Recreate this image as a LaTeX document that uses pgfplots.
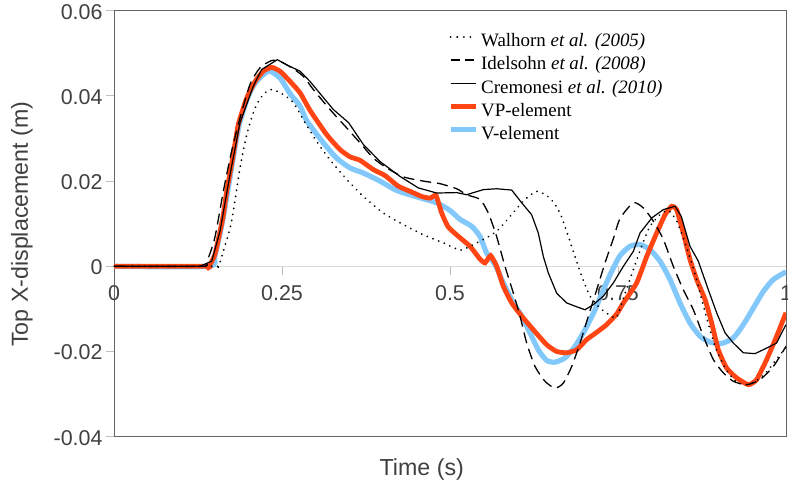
\documentclass[border=0pt]{standalone}
\usepackage{pgfplots}
\pgfplotsset{compat=1.18}
\usepackage{fontspec}
\setmainfont{Liberation Serif}
\newfontfamily\arial{Liberation Sans}
\definecolor{vpred}{RGB}{255,69,20}
\definecolor{vblue}{RGB}{130,200,250}
\definecolor{txtgray}{RGB}{64,64,64}
\definecolor{axgray}{RGB}{100,100,100}
\definecolor{tickgray}{RGB}{190,190,190}
\definecolor{zerogray}{RGB}{217,217,217}
\begin{document}
\begin{tikzpicture}
\begin{axis}[
  name=ax,
  scale only axis, width=672bp, height=426bp,
  xmin=0, xmax=1, ymin=-0.04, ymax=0.06,
  xtick={0,0.25,0.5,0.75,1}, xticklabels={0,0.25,0.5,0.75,1},
  ytick={-0.04,-0.02,0,0.02,0.04,0.06},
  yticklabels={-0.04,-0.02,0,0.02,0.04,0.06},
  ticklabel style={font=\arial\fontsize{21.5}{24}\selectfont, text=txtgray},
  xtick pos=bottom, ytick pos=left, tick align=outside,
  major tick length=8bp,
  every tick/.style={draw=tickgray, line width=0.8bp},
  xtick style={yshift=170bp},
  xticklabel style={yshift=162.5bp},
  yticklabel style={yshift=-1bp},
  axis line style={draw=axgray, line width=0.8bp},
  xlabel={Time (s)}, ylabel={Top X-displacement (m)},
  label style={font=\arial\fontsize{23.3}{26}\selectfont, text=txtgray},
  xlabel style={at={(axis description cs:0.458,-0.078)}, anchor=center},
  ylabel style={at={(axis description cs:-0.137,0.499)}, anchor=center},
  legend cell align=left,
  legend image code/.code={\draw[#1] (0bp,5.5bp) -- (25bp,5.5bp);},
  legend style={at={(axis description cs:0.497,0.953)}, anchor=north west,
    draw=none, fill=none, inner sep=0pt, outer sep=0pt, row sep=0pt, column sep=1bp,
    font=\fontsize{19}{22}\selectfont,
    nodes={inner sep=2bp, text height=14bp, text depth=5.2bp}},
]
\draw[zerogray, line width=1bp] (axis cs:0,0) -- (axis cs:1,0);

\addlegendimage{black, line width=2bp, line cap=round, dash pattern=on 0.1bp off 6.5bp}
\addlegendentry{Walhorn \textit{et al. (2005)}}
\addlegendimage{black, line width=1.4bp, dash pattern=on 9bp off 5bp}
\addlegendentry{Idelsohn \textit{et al. (2008)}}
\addlegendimage{black, line width=1.2bp}
\addlegendentry{Cremonesi \textit{et al. (2010)}}
\addlegendimage{vpred, line width=4.8bp}
\addlegendentry{VP-element}
\addlegendimage{vblue, line width=5.2bp}
\addlegendentry{V-element}

% V-element
\addplot[forget plot, vblue, line width=5.2bp, smooth, tension=0.4] coordinates {
(0,0) (0.14,0) (0.150,0.0025) (0.162,0.011) (0.177,0.025) (0.186,0.033) (0.198,0.0392) (0.21,0.043) (0.2297,0.0458) (0.247,0.0442) (0.262,0.0405) (0.277,0.0376) (0.2867,0.0342) (0.3115,0.029) (0.3313,0.0254) (0.3512,0.0231) (0.371,0.0219) (0.3958,0.02) (0.4206,0.0178) (0.4504,0.0163) (0.4802,0.0149) (0.5,0.0131) (0.515,0.011) (0.5322,0.0094) (0.5446,0.007) (0.5546,0.0031) (0.567,0.0004) (0.5794,-0.0039) (0.5943,-0.0086) (0.6067,-0.0117) (0.619,-0.0156) (0.6314,-0.0196) (0.6438,-0.0221) (0.6563,-0.0225) (0.6711,-0.0215) (0.686,-0.0188) (0.7009,-0.0149) (0.7158,-0.0102) (0.7282,-0.0055) (0.7406,-0.0012) (0.753,0.0025) (0.7679,0.0047) (0.7827,0.0051) (0.7976,0.0039) (0.8125,0.0012) (0.8274,-0.0031) (0.8423,-0.0086) (0.8571,-0.0133) (0.872,-0.0164) (0.8869,-0.0178) (0.9043,-0.0181) (0.9216,-0.0168) (0.9365,-0.0137) (0.9514,-0.0098) (0.9663,-0.0059) (0.9812,-0.0031) (1.0,-0.0013)
};
% VP-element
\addplot[forget plot, vpred, line width=4.8bp, smooth, tension=0.3] coordinates {
(0,0) (0.135,0) (0.140,-0.0003) (0.150,0.0027) (0.162,0.0114) (0.1677,0.0176) (0.1766,0.0254) (0.185,0.0333) (0.1975,0.0395) (0.21,0.0434) (0.222,0.0458) (0.2346,0.0467) (0.247,0.0458) (0.262,0.0434) (0.277,0.0407) (0.2917,0.0366) (0.3165,0.0309) (0.3363,0.0274) (0.3512,0.0257) (0.366,0.0249) (0.386,0.0227) (0.4033,0.0213) (0.4231,0.0188) (0.4405,0.0176) (0.4578,0.0164) (0.4702,0.016) (0.4792,0.0166) (0.4876,0.0125) (0.4975,0.0092) (0.5149,0.0067) (0.5298,0.0047) (0.5446,0.0017) (0.5521,0.0008) (0.5605,0.0025) (0.5694,0) (0.5794,-0.0047) (0.5918,-0.0086) (0.6067,-0.0117) (0.624,-0.0149) (0.6438,-0.0184) (0.6587,-0.02) (0.6736,-0.0203) (0.6885,-0.0196) (0.7034,-0.0172) (0.7183,-0.0155) (0.7331,-0.0137) (0.748,-0.0112) (0.758,-0.0086) (0.7778,-0.0039) (0.7927,0.0023) (0.8075,0.0078) (0.82,0.0121) (0.8299,0.0141) (0.8373,0.0133) (0.8472,0.0078) (0.8571,0.0016) (0.8671,-0.0031) (0.8795,-0.0078) (0.8894,-0.0133) (0.8993,-0.0196) (0.9117,-0.0239) (0.9266,-0.0262) (0.944,-0.0278) (0.9563,-0.0266) (0.9712,-0.0219) (0.9861,-0.0164) (1.0,-0.0109)
};
% Walhorn
\addplot[forget plot, black, line width=1.9bp, line cap=round, dash pattern=on 0.1bp off 6bp, smooth, tension=0.4] coordinates {
(0,0) (0.15,0) (0.155,-0.0003) (0.1627,0.0035) (0.175,0.0106) (0.1875,0.0231) (0.1975,0.0309) (0.21,0.0372) (0.222,0.0403) (0.2346,0.0415) (0.252,0.0403) (0.267,0.0384) (0.2817,0.0344) (0.3016,0.0293) (0.3214,0.025) (0.3462,0.0204) (0.371,0.0164) (0.4008,0.0125) (0.4305,0.0098) (0.4603,0.0074) (0.4901,0.0055) (0.515,0.0038) (0.5298,0.0047) (0.5496,0.0063) (0.5694,0.0082) (0.5893,0.0117) (0.6091,0.0153) (0.629,0.0176) (0.6488,0.016) (0.6637,0.0125) (0.6761,0.007) (0.686,0.0023) (0.696,-0.0023) (0.7083,-0.007) (0.7232,-0.0098) (0.7381,-0.0115) (0.748,-0.012) (0.758,-0.0075) (0.7728,-0.0008) (0.7852,0.0047) (0.7976,0.0094) (0.8125,0.0121) (0.8249,0.0131) (0.8373,0.0106) (0.8497,0.0055) (0.865,-0.002) (0.88,-0.011) (0.895,-0.019) (0.91,-0.024) (0.925,-0.027) (0.94,-0.0278) (0.955,-0.027) (0.97,-0.025) (0.985,-0.022) (1.0,-0.019)
};
% Idelsohn
\addplot[forget plot, black, line width=1.3bp, dash pattern=on 11bp off 6bp, smooth, tension=0.4] coordinates {
(0,0) (0.13,0) (0.1379,0.001) (0.150,0.0067) (0.1627,0.0176) (0.175,0.027) (0.1875,0.0348) (0.2024,0.0427) (0.2173,0.0466) (0.2346,0.0483) (0.247,0.0481) (0.2644,0.0466) (0.2817,0.0446) (0.2966,0.0415) (0.3214,0.0368) (0.3462,0.0325) (0.366,0.029) (0.3859,0.0254) (0.4057,0.0231) (0.4305,0.021) (0.4603,0.02) (0.4851,0.0194) (0.51,0.0182) (0.5248,0.0168) (0.5446,0.0157) (0.557,0.0125) (0.5694,0.007) (0.5818,0) (0.5943,-0.0063) (0.6042,-0.0117) (0.6141,-0.018) (0.6265,-0.0235) (0.6414,-0.027) (0.6563,-0.0286) (0.6687,-0.0274) (0.6811,-0.0235) (0.6935,-0.018) (0.7059,-0.0117) (0.7183,-0.0055) (0.7307,0.0008) (0.7431,0.0065) (0.753,0.0112) (0.7728,0.0149) (0.7877,0.0137) (0.8026,0.0106) (0.8175,0.0063) (0.8323,0) (0.8472,-0.0055) (0.8621,-0.0102) (0.877,-0.0164) (0.8919,-0.0219) (0.9067,-0.025) (0.9216,-0.027) (0.9415,-0.0278) (0.9613,-0.0266) (0.9812,-0.0235) (1.0,-0.0188)
};
% Cremonesi
\addplot[forget plot, black, line width=1.2bp] coordinates {
(0,0) (0.128,0) (0.1454,0.0012) (0.1577,0.0082) (0.1726,0.0215) (0.1875,0.0337) (0.2073,0.0423) (0.2198,0.0462) (0.2431,0.0485) (0.2569,0.0473) (0.2768,0.0458) (0.2917,0.0434) (0.3016,0.0415) (0.3264,0.0368) (0.3492,0.0337) (0.371,0.0286) (0.3958,0.0246) (0.4256,0.0211) (0.4529,0.0184) (0.4802,0.0172) (0.51,0.0173) (0.5248,0.0168) (0.5496,0.018) (0.5694,0.0182) (0.5918,0.0179) (0.6067,0.0149) (0.6215,0.0121) (0.6314,0.0078) (0.6389,0.0023) (0.6464,-0.0016) (0.6587,-0.0063) (0.6736,-0.0086) (0.6885,-0.0095) (0.7009,-0.0102) (0.7133,-0.009) (0.7282,-0.007) (0.7431,-0.0039) (0.758,0) (0.7728,0.0035) (0.7827,0.0078) (0.8006,0.0114) (0.8175,0.0133) (0.8349,0.0141) (0.8442,0.0117) (0.8571,0.0047) (0.8695,0.0012) (0.8844,-0.0055) (0.8968,-0.0109) (0.9092,-0.0156) (0.9216,-0.018) (0.9365,-0.0203) (0.9539,-0.0205) (0.9712,-0.0192) (0.9861,-0.018) (0.9936,-0.0156) (1.0,-0.0137)
};
\end{axis}
\pgfresetboundingbox
\path ([shift={(-114bp,-51.3bp)}]ax.south west) rectangle ([shift={(2bp,10.7bp)}]ax.north east);
\end{tikzpicture}
\end{document}
